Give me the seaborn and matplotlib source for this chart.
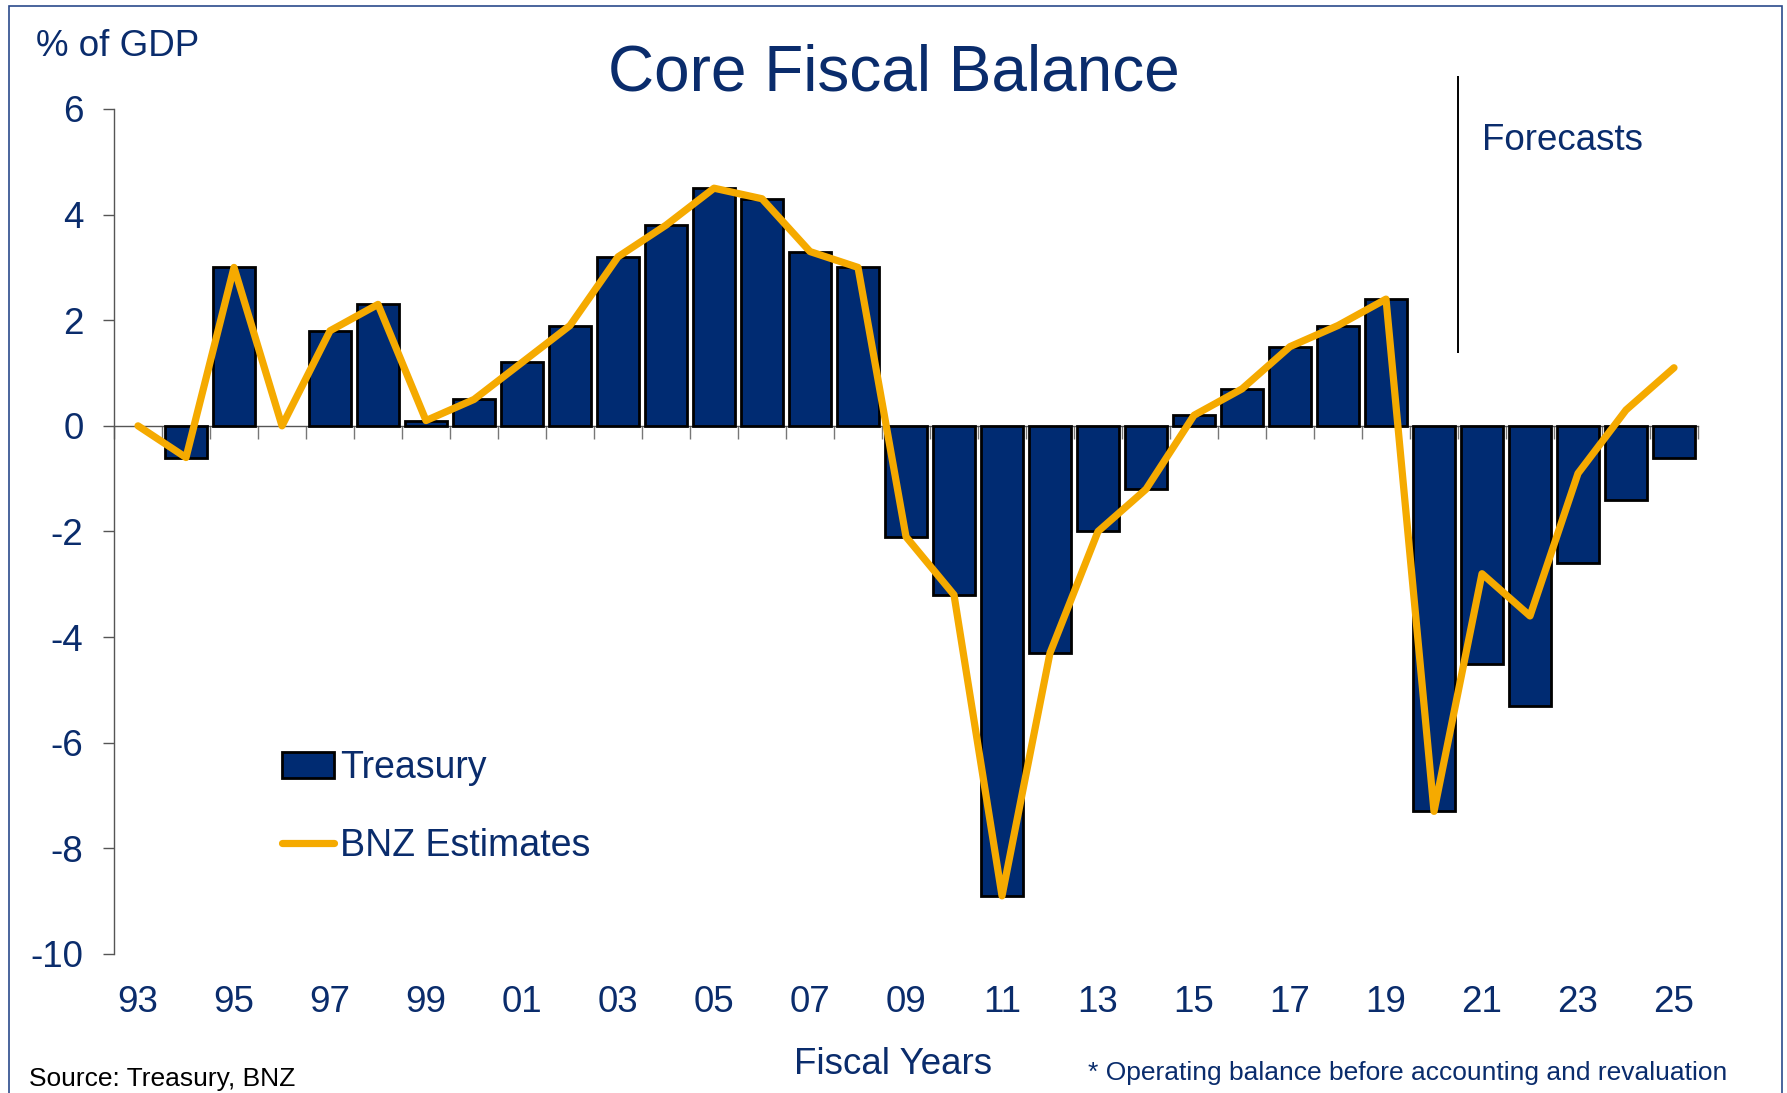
import numpy as np
import pandas as pd
import matplotlib
matplotlib.use("Agg")
import matplotlib.pyplot as plt
from matplotlib.patches import Rectangle
import seaborn as sns

# ---------------- data ----------------
years = ["93", "94", "95", "96", "97", "98", "99", "00", "01", "02", "03",
         "04", "05", "06", "07", "08", "09", "10", "11", "12", "13", "14",
         "15", "16", "17", "18", "19", "20", "21", "22", "23", "24", "25"]
treasury = [np.nan, -0.6, 3.0, np.nan, 1.8, 2.3, 0.1, 0.5, 1.2, 1.9, 3.2,
            3.8, 4.5, 4.3, 3.3, 3.0, -2.1, -3.2, -8.9, -4.3, -2.0, -1.2,
            0.2, 0.7, 1.5, 1.9, 2.4, -7.3, -4.5, -5.3, -2.6, -1.4, -0.6]
bnz = [0.0, -0.6, 3.0, 0.0, 1.8, 2.3, 0.1, 0.5, 1.2, 1.9, 3.2,
       3.8, 4.5, 4.3, 3.3, 3.0, -2.1, -3.2, -8.9, -4.3, -2.0, -1.2,
       0.2, 0.7, 1.5, 1.9, 2.4, -7.3, -2.8, -3.6, -0.9, 0.3, 1.1]
yticks = [-10, -8, -6, -4, -2, 0, 2, 4, 6]
forecast_start = "21"

NAVY = "#002B72"
TEXT = "#0A2C6C"
GOLD = "#F5AA00"
FONT = "Liberation Sans"

sns.set_theme(style="white")
plt.rcParams["font.family"] = [FONT, "DejaVu Sans"]

df = pd.DataFrame({"year": years, "treasury": treasury, "bnz": bnz})
df["pos"] = np.arange(len(df))

fig = plt.figure(figsize=(17.87, 10.93), dpi=100)
ax = fig.add_axes([0.0638, 0.1272, 0.8864, 0.7731])

sns.barplot(data=df, x="year", y="treasury", order=years, color=NAVY,
            saturation=1, edgecolor="black", linewidth=2.0, width=0.86,
            errorbar=None, label="Treasury", ax=ax, zorder=2)
sns.lineplot(data=df, x="pos", y="bnz", color=GOLD, linewidth=5.2,
             label="BNZ Estimates", ax=ax, zorder=3,
             solid_joinstyle="round", solid_capstyle="round")

ymin, ymax = yticks[0], yticks[-1]
ax.set_ylim(ymin, ymax)
ax.set_xlim(-0.5, len(years) - 0.5)
ax.set_xlabel("")
ax.set_ylabel("")

# y axis
ax.set_yticks(yticks)
ax.set_yticklabels([str(t) for t in yticks])
ax.tick_params(axis="y", direction="out", length=8, width=1, color="#555555",
               pad=14, labelsize=26.5, labelcolor=TEXT, left=True)
for s in ["top", "right"]:
    ax.spines[s].set_visible(False)
ax.spines["left"].set_color("#555555")
ax.spines["left"].set_linewidth(1.0)

# zero line with ticks between bars
ax.spines["bottom"].set_position(("data", 0))
ax.spines["bottom"].set_color("#555555")
ax.spines["bottom"].set_linewidth(1.0)
ax.spines["bottom"].set_zorder(1.5)
bounds = np.arange(len(years) + 1) - 0.5
ax.set_xticks([])
ax.set_xticks(bounds, minor=True)
ax.tick_params(axis="x", which="minor", direction="out", length=9, width=1,
               color="#777777", bottom=True, labelbottom=False)

# bottom category labels
sec = ax.secondary_xaxis("bottom")
sec.set_xticks(df["pos"].values[::2], labels=years[::2])
sec.tick_params(axis="x", length=0, pad=22.5, labelsize=26.5, labelcolor=TEXT)
sec.spines["bottom"].set_visible(False)

# forecasts marker
fpos = years.index(forecast_start) - 0.5
ax.vlines(fpos, 1.38, 6.62, color="black", linewidth=1.4, clip_on=False)
ax.text(fpos + 0.5, 5.40, "Forecasts", color=TEXT, fontsize=26.5,
        ha="left", va="center")

# legend (Treasury first)
handles, labels = ax.get_legend_handles_labels()
order = [labels.index("Treasury"), labels.index("BNZ Estimates")]
leg = ax.legend([handles[i] for i in order], [labels[i] for i in order],
                loc="upper left", bbox_to_anchor=(0.106, 0.241), frameon=False,
                fontsize=27, handlelength=1.39, handletextpad=0.15,
                labelspacing=1.12, borderpad=0, borderaxespad=0)
for t in leg.get_texts():
    t.set_color(TEXT)

# texts
fig.text(0.5, 0.933, "Core Fiscal Balance", ha="center", va="center",
         fontsize=46, color=TEXT)
fig.text(0.0204, 0.957, "% of GDP", ha="left", va="center",
         fontsize=26.5, color=TEXT)
fig.text(0.4995, 1 - 1064.5 / 1093, "Fiscal Years", ha="center", va="center",
         fontsize=26.5, color=TEXT)
fig.text(0.016, 1 - 1079 / 1093, "Source: Treasury, BNZ", ha="left",
         va="center", fontsize=19, color="black")
fig.text(0.609, 1 - 1073 / 1093,
         "* Operating balance before accounting and revaluation", ha="left",
         va="center", fontsize=19, color=TEXT)

# frame
fig.patches.append(Rectangle((0.005, -0.02), 0.992, 1.0145, fill=False,
                             edgecolor="#2B4A8B", linewidth=1.2,
                             transform=fig.transFigure, figure=fig))

fig.savefig("out.png", dpi=100)
